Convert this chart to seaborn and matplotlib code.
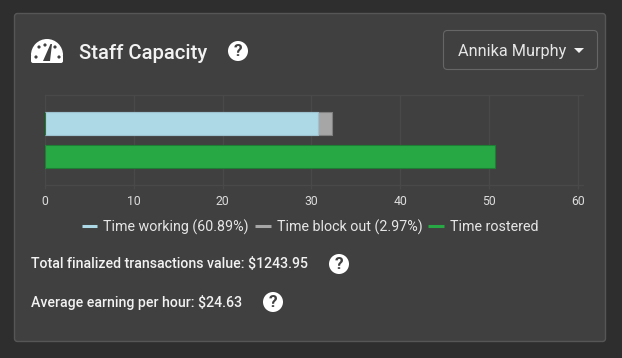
import matplotlib
matplotlib.use('Agg')
import matplotlib.pyplot as plt
from matplotlib.lines import Line2D
from matplotlib.patches import Circle, FancyBboxPatch, Polygon, Wedge
import pandas as pd
import seaborn as sns

# values (hours)
rows = ['Worked', 'Rostered']
time_working = [30.8, 0]
time_block_out = [1.5, 0]
time_rostered = [0, 50.7]
x_ticks = [0, 10, 20, 30, 40, 50, 60]

legend_labels = ['Time working (60.89%)', 'Time block out (2.97%)', 'Time rostered']
title = 'Staff Capacity'
staff_name = 'Annika Murphy'
total_text = 'Total finalized transactions value: $1243.95'
average_text = 'Average earning per hour: $24.63'

W, H = 622, 358
BG = '#2e2e2e'
CARD = '#404040'
BLUE = '#add8e6'
GREY = '#a6a6a6'
GREEN = '#28a745'
GRID = '#494949'

sns.set_theme(style='dark')
plt.rcParams['font.family'] = ['Roboto', 'DejaVu Sans']

fig = plt.figure(figsize=(W / 100, H / 100), dpi=100, facecolor=BG)

# page layer in pixel coordinates
page = fig.add_axes([0, 0, 1, 1], zorder=0)
page.set_xlim(0, W)
page.set_ylim(H, 0)
page.axis('off')
page.add_patch(FancyBboxPatch((14.5, 13.5), 591, 328, boxstyle='round,pad=0,rounding_size=3',
                              fc=CARD, ec='#565656', lw=1))
page.add_patch(FancyBboxPatch((443.5, 30.5), 154, 39, boxstyle='round,pad=0,rounding_size=4',
                              fc=CARD, ec='#666666', lw=0.8))
page.add_patch(Polygon([(574, 48), (584, 48), (579, 53)], fc='#f0f0f0', ec='none'))


def help_icon(x, y):
    page.add_patch(Circle((x, y), 10, fc='white', ec='none'))
    page.text(x, y + 0.5, '?', color=CARD, fontsize=12.5, fontweight='bold', ha='center', va='center')


def gauge_icon(x, y, r):
    page.add_patch(Wedge((x, y), r, 180, 360, fc='white', ec='none'))
    page.add_patch(FancyBboxPatch((x - r, y - 1), 2 * r, 9, boxstyle='round,pad=0,rounding_size=2',
                                  fc='white', ec='none'))
    for dx, dy in [(-8, -8), (-11, 2), (-2, -10), (8, -8), (12, 2)]:
        page.add_patch(Circle((x + dx, y + dy), 1.6, fc=CARD, ec='none'))
    page.add_patch(Polygon([(x - 4, y + 6), (x + 3, y + 6), (x + 5, y - 11), (x + 3.5, y - 11)], fc=CARD, ec='none'))


gauge_icon(47, 55, 16)
page.text(79, 53.5, title, color='#f2f2f2', fontsize=14.6, fontweight='medium', va='center')
help_icon(238, 51)
page.text(458, 51.5, staff_name, color='#e6e6e6', fontsize=11.7, va='center')
page.text(31, 264.5, total_text, color='#f2f2f2', fontsize=10.15, fontweight='medium', va='center')
page.text(31, 302.5, average_text, color='#f2f2f2', fontsize=10.15, fontweight='medium', va='center')
help_icon(339, 264)
help_icon(273, 302)

# chart area: x 45..583, y 95..185 in pixels
ax = fig.add_axes([45 / W, 1 - 185 / H, 538 / W, 90 / H], zorder=1)
ax.set_facecolor('none')

df = pd.DataFrame({'row': rows, 'working': time_working, 'block': time_block_out, 'rostered': time_rostered})
df['stacked'] = df['working'] + df['block']

sns.barplot(data=df, x='stacked', y='row', color=GREY, width=0.71, saturation=1,
            edgecolor='#808080', linewidth=0.8, ax=ax, zorder=3)
sns.barplot(data=df, x='working', y='row', color=BLUE, width=0.71, saturation=1,
            edgecolor='#9cc2cf', linewidth=0.8, ax=ax, zorder=4)
sns.barplot(data=df, x='rostered', y='row', color=GREEN, width=0.71, saturation=1,
            edgecolor='#1e7e34', linewidth=0.8, ax=ax, zorder=5)

ax.set_xlim(0, 60.6)
ax.set_ylim(1.86, -0.87)
ax.set_xticks(x_ticks)
ax.set_yticks([])
ax.set_xlabel('')
ax.set_ylabel('')
ax.grid(axis='x', color=GRID, lw=1)
ax.set_axisbelow(True)
ax.tick_params(axis='x', length=3, width=1, color=GRID, labelcolor='#dcdcdc', labelsize=8.8, pad=4.5, bottom=True)
for side, spine in ax.spines.items():
    spine.set_visible(side in ('top', 'bottom'))
    spine.set_color(GRID)
    spine.set_linewidth(1)

handles = [Line2D([], [], color=c, lw=2.2, solid_capstyle='butt') for c in (BLUE, GREY, GREEN)]
fig.legend(handles, legend_labels, loc='center', bbox_to_anchor=(310 / W, 1 - 227 / H), ncol=3,
           frameon=False, fontsize=10.3, labelcolor='#e6e6e6', handlelength=1.1, handletextpad=0.42,
           columnspacing=0.42, borderpad=0, borderaxespad=0)

fig.savefig('out.png', dpi=100, facecolor=BG)
